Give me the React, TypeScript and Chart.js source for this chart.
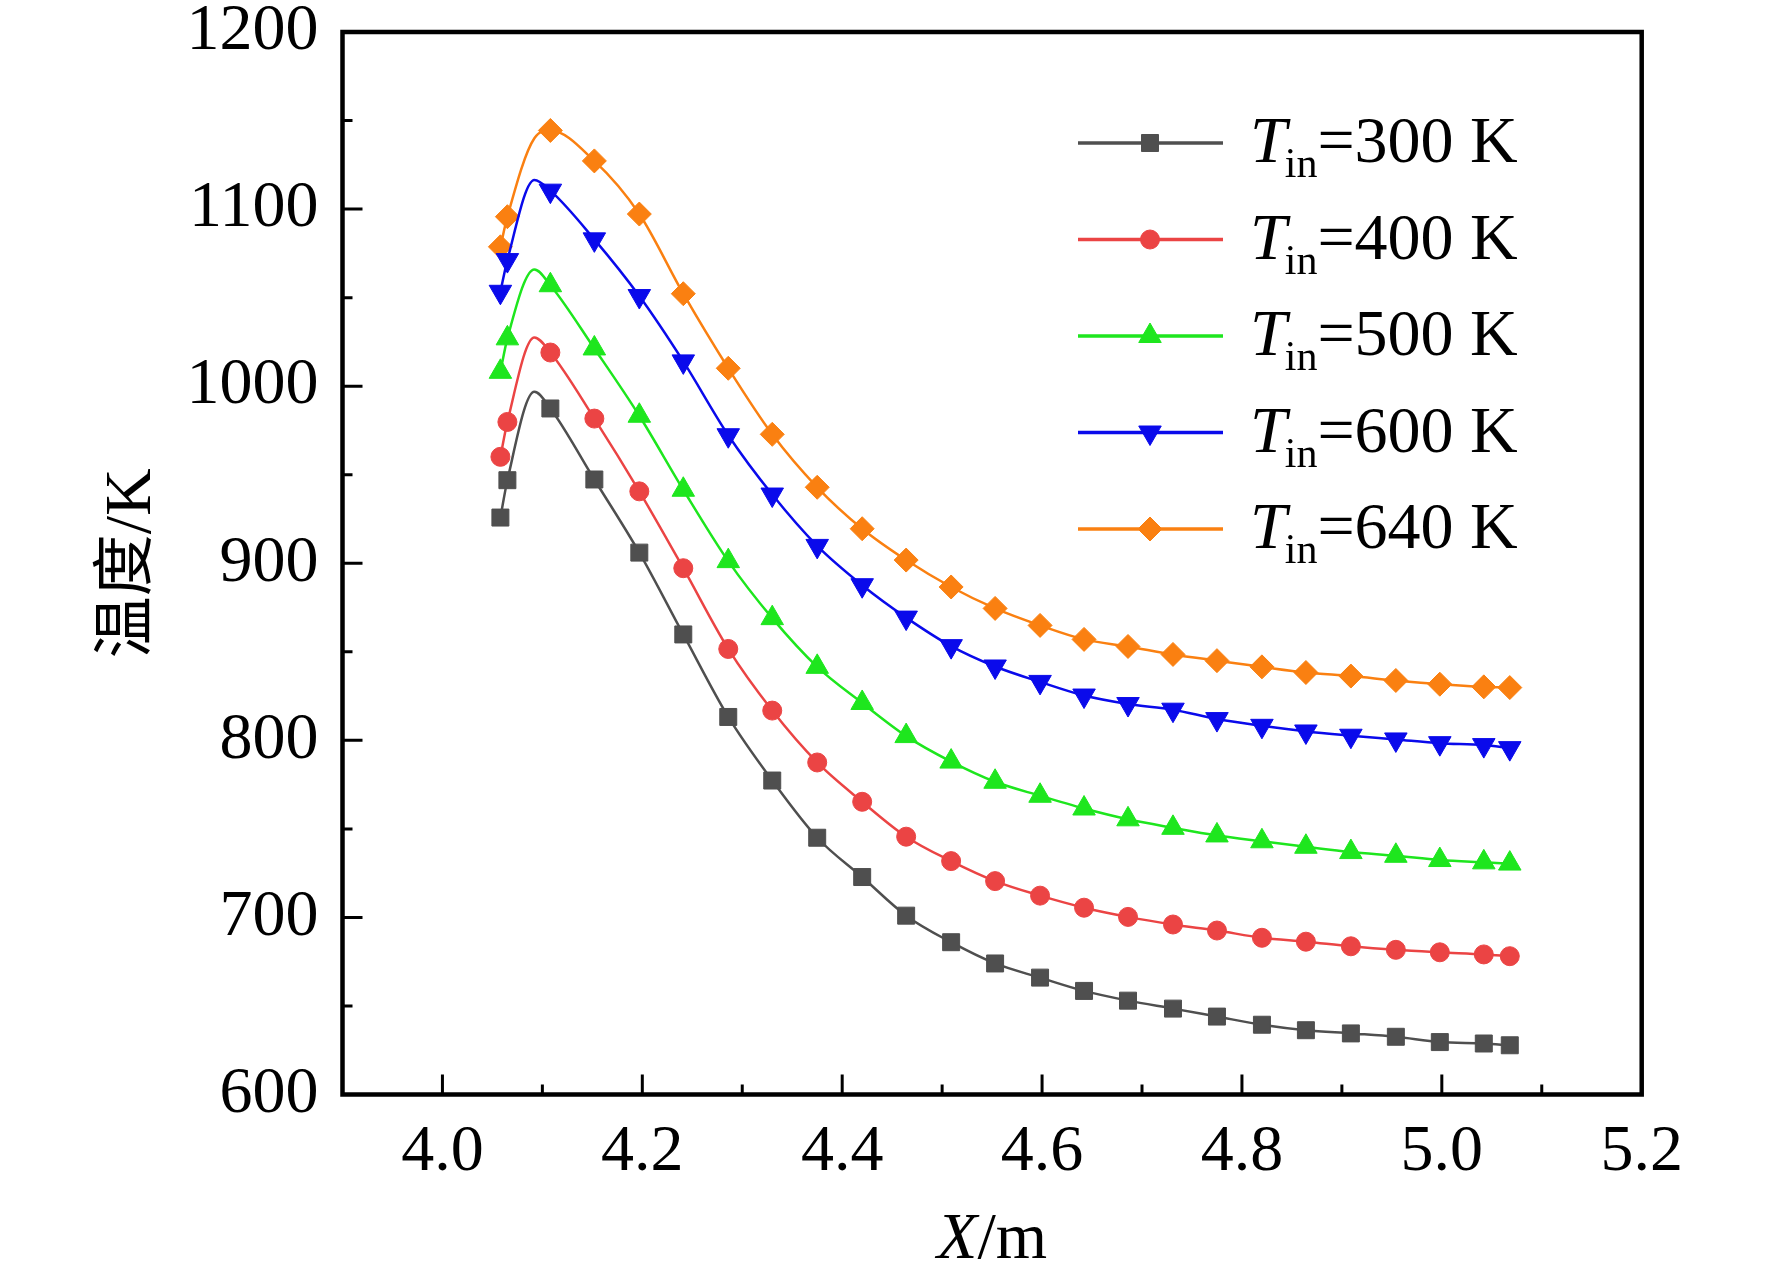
import { useEffect, useRef } from "react";
import { Chart, registerables, Plugin } from "chart.js";
import { drawPoint } from "chart.js/helpers";

Chart.register(...registerables);

// positions along the duct (m); index 2 is the curve's peak, drawn without a symbol
const xValues = [
  4.058, 4.065, 4.092, 4.108, 4.152, 4.197, 4.241, 4.286, 4.33, 4.375, 4.42, 4.464, 4.509,
  4.553, 4.598, 4.642, 4.686, 4.731, 4.775, 4.82, 4.864, 4.909, 4.954, 4.998, 5.042, 5.068,
];
const hiddenIndex = 2;

const temp300 = [
  925.8, 946.9, 996.8, 987.4, 947.3, 906, 859.8, 813.2, 777.3, 745, 722.8, 701, 686, 674, 666,
  658.5, 653, 648.5, 644, 639.4, 636.3, 634.5, 632.6, 629.6, 628.8, 627.8,
];
const temp400 = [
  960.1, 979.8, 1027.5, 1019, 981.7, 940.6, 897.2, 851.6, 816.8, 787.5, 765.3, 745.6, 731.8,
  720.5, 712.3, 705.5, 700.3, 696, 692.6, 688.5, 686.3, 683.7, 681.7, 680.3, 679.1, 678.1,
];
const temp500 = [
  1008.1, 1027, 1065.9, 1057, 1021.3, 983.3, 941.5, 901.2, 869, 841.5, 821.1, 802.4, 788, 776.6,
  768.7, 761.5, 755.4, 750.6, 746.3, 743, 739.9, 736.9, 734.8, 732.4, 731.1, 730.4,
];
const temp600 = [
  1053.3, 1071.2, 1116.4, 1110.4, 1082.9, 1050.9, 1014, 972.3, 938.8, 909.8, 887.6, 869.3, 853.2,
  841.7, 833, 825.3, 820.5, 817.3, 812, 808.2, 805, 802.6, 800.5, 798.4, 797.3, 795.6,
];
const temp640 = [
  1078.7, 1095.7, 1140, 1144.4, 1127.2, 1097.2, 1052.2, 1010.1, 972.8, 942.9, 919.5, 901.8,
  886.6, 874.5, 864.9, 857, 853, 848.5, 845, 841.5, 838.3, 836.3, 833.8, 831.7, 830.2, 829.8,
];

const inletLabels = ["=300 K", "=400 K", "=500 K", "=600 K", "=640 K"];
const xTickValues = [4.0, 4.2, 4.4, 4.6, 4.8, 5.0, 5.2];
const xMinorTicks = [3.9, 4.1, 4.3, 4.5, 4.7, 4.9, 5.1];
const yMinorTicks = [650, 750, 850, 950, 1050, 1150];

const serif = '"Liberation Serif", "Times New Roman", serif';

const styles = [
  { data: temp300, color: "#4f4f4f", shape: "rect", radius: 12, rotation: 0 },
  { data: temp400, color: "#eb4444", shape: "circle", radius: 9.5, rotation: 0 },
  { data: temp500, color: "#1ee61e", shape: "triangle", radius: 13, rotation: 0 },
  { data: temp600, color: "#0a0aeb", shape: "triangle", radius: 13, rotation: 180 },
  { data: temp640, color: "#fa8011", shape: "rectRot", radius: 12, rotation: 0 },
];

const decorPlugin: Plugin = {
  id: "decor",
  afterDraw(chart) {
    const { ctx, chartArea: a } = chart;
    const xs = chart.scales.x;
    const ys = chart.scales.y;
    ctx.save();

    // inward ticks
    ctx.strokeStyle = "#000";
    ctx.lineWidth = 3;
    ctx.beginPath();
    xTickValues.forEach((v) => {
      const px = xs.getPixelForValue(v);
      ctx.moveTo(px, a.bottom);
      ctx.lineTo(px, a.bottom - 20);
    });
    xMinorTicks.forEach((v) => {
      const px = xs.getPixelForValue(v);
      ctx.moveTo(px, a.bottom);
      ctx.lineTo(px, a.bottom - 10);
    });
    ys.ticks.forEach((t) => {
      const py = ys.getPixelForValue(t.value);
      ctx.moveTo(a.left, py);
      ctx.lineTo(a.left + 20, py);
    });
    yMinorTicks.forEach((v) => {
      const py = ys.getPixelForValue(v);
      ctx.moveTo(a.left, py);
      ctx.lineTo(a.left + 10, py);
    });
    ctx.stroke();

    // frame
    ctx.lineWidth = 4.5;
    ctx.strokeRect(a.left, a.top, a.right - a.left, a.bottom - a.top);

    // x title: X/m
    ctx.fillStyle = "#000";
    ctx.textBaseline = "alphabetic";
    ctx.font = `italic 66px ${serif}`;
    const wX = ctx.measureText("X").width;
    ctx.font = `66px ${serif}`;
    const wM = ctx.measureText("/m").width;
    const tx = (a.left + a.right) / 2 - (wX + wM) / 2;
    ctx.font = `italic 66px ${serif}`;
    ctx.fillText("X", tx, 1258);
    ctx.font = `66px ${serif}`;
    ctx.fillText("/m", tx + wX, 1258);

    // y title: 温度/K
    ctx.save();
    ctx.translate(150, (a.top + a.bottom) / 2);
    ctx.rotate(-Math.PI / 2);
    ctx.font = `62px "Noto Sans CJK SC", ${serif}`;
    const wC = ctx.measureText("温度").width;
    ctx.font = `66px ${serif}`;
    const wK = ctx.measureText("/K").width;
    const sx = -(wC + wK) / 2;
    ctx.font = `62px "Noto Sans CJK SC", ${serif}`;
    ctx.fillText("温度", sx, -4);
    ctx.font = `66px ${serif}`;
    ctx.fillText("/K", sx + wC, 0);
    ctx.restore();

    // legend
    styles.forEach((s, i) => {
      const ry = 143 + i * 96.5;
      ctx.strokeStyle = s.color;
      ctx.fillStyle = s.color;
      ctx.lineWidth = 3.5;
      ctx.beginPath();
      ctx.moveTo(1078, ry);
      ctx.lineTo(1223, ry);
      ctx.stroke();
      ctx.lineWidth = 1;
      drawPoint(
        ctx,
        { pointStyle: s.shape as any, radius: s.radius, rotation: s.rotation, borderWidth: 1 },
        1150,
        ry
      );
      ctx.fillStyle = "#000";
      ctx.font = `italic 66px ${serif}`;
      ctx.fillText("T", 1250, ry + 19);
      const wT = ctx.measureText("T").width;
      ctx.font = `42px ${serif}`;
      ctx.fillText("in", 1250 + wT - 2, ry + 34);
      const wIn = ctx.measureText("in").width;
      ctx.font = `66px ${serif}`;
      ctx.fillText(inletLabels[i], 1250 + wT - 2 + wIn, ry + 19);
    });

    ctx.restore();
  },
};

export default function App() {
  const chartRef = useRef<HTMLCanvasElement>(null);
  const chartInstance = useRef<Chart | null>(null);

  useEffect(() => {
    if (!chartRef.current) return;
    if (chartInstance.current) chartInstance.current.destroy();
    const ctx = chartRef.current.getContext("2d");
    if (!ctx) return;

    chartInstance.current = new Chart(ctx, {
      type: "line",
      data: {
        datasets: styles.map((s) => ({
          data: xValues.map((x, i) => ({ x, y: s.data[i] })),
          borderColor: s.color,
          backgroundColor: s.color,
          borderWidth: 2.5,
          cubicInterpolationMode: "monotone" as const,
          pointStyle: s.shape as any,
          pointRotation: s.rotation,
          pointRadius: (c: any) => (c.dataIndex === hiddenIndex ? 0 : s.radius),
          pointBorderWidth: 1,
          pointBorderColor: s.color,
          pointBackgroundColor: s.color,
        })),
      },
      options: {
        responsive: false,
        animation: false,
        devicePixelRatio: 1,
        layout: { padding: { top: 32, right: 130.3, left: 0, bottom: 0 } },
        plugins: { legend: { display: false }, tooltip: { enabled: false } },
        scales: {
          x: {
            type: "linear",
            min: 3.9,
            max: 5.2,
            grid: { display: false, drawTicks: false },
            border: { display: false },
            afterBuildTicks: (s: any) => {
              s.ticks = xTickValues.map((v) => ({ value: v }));
            },
            ticks: {
              font: { family: serif, size: 66, lineHeight: 1 },
              color: "#000",
              padding: 25,
              maxRotation: 0,
              autoSkip: false,
              callback: (v: any) => Number(v).toFixed(1),
            },
            afterFit: (s: any) => {
              s.height = 185.5;
              s.paddingLeft = 0;
              s.paddingRight = 0;
            },
          },
          y: {
            type: "linear",
            min: 600,
            max: 1200,
            grid: { display: false, drawTicks: false },
            border: { display: false },
            ticks: {
              stepSize: 100,
              font: { family: serif, size: 66, lineHeight: 1 },
              color: "#000",
              padding: 24,
              callback: (v: any) => String(v),
            },
            afterFit: (s: any) => {
              s.width = 342.5;
              s.paddingTop = 0;
              s.paddingBottom = 0;
            },
          },
        },
      },
      plugins: [decorPlugin],
    });

    return () => {
      if (chartInstance.current) {
        chartInstance.current.destroy();
        chartInstance.current = null;
      }
    };
  }, []);

  return (
    <div style={{ position: "absolute", left: 0, top: 0, width: 1772, height: 1280, background: "#fff" }}>
      <canvas ref={chartRef} width={1772} height={1280} style={{ width: 1772, height: 1280 }}></canvas>
    </div>
  );
}
